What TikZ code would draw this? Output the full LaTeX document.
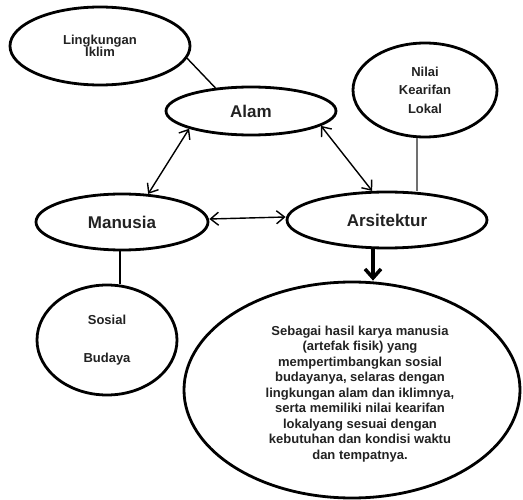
\documentclass[tikz,border=0pt]{standalone}
\usepackage{fontspec}
\setmainfont{Liberation Sans}
\usetikzlibrary{shapes.geometric,arrows.meta}
\definecolor{txt}{HTML}{222222}
\definecolor{thinline}{HTML}{707070}
\begin{document}
\begin{tikzpicture}[x=1pt,y=-1pt,
  oval/.style={draw=black, line width=2.8pt, ellipse, inner sep=0pt, align=center, text=txt,
    font=\bfseries\fontsize{13}{15.5}\selectfont},
  mainoval/.style={oval, font=\bfseries\fontsize{17}{20}\selectfont},
  link/.style={line width=1.4pt},
  bi/.style={line width=1.4pt, {Straight Barb[length=8pt,width=13pt]}-{Straight Barb[length=8pt,width=13pt]}},
  flow/.style={line width=3.5pt, -{Straight Barb[length=9pt,width=16pt]}}
]
\useasboundingbox (0,0) rectangle (523,500);

\node[oval, minimum width=180pt, minimum height=78pt] (ling) at (100,46) {Lingkungan\\[-3pt]Iklim};
\node[mainoval, minimum width=170pt, minimum height=48pt] (alam) at (251,111) {Alam};
\node[oval, minimum width=144pt, minimum height=94pt] (nilai) at (425,90) {Nilai\\[3pt]Kearifan\\[3pt]Lokal};
\node[mainoval, minimum width=172pt, minimum height=56pt] (manusia) at (122,222) {Manusia};
\node[mainoval, minimum width=200pt, minimum height=56pt] (arsi) at (387,220) {Arsitektur};
\node[oval, minimum width=140pt, minimum height=110pt] (sosial) at (107,340) {Sosial\\[22pt]Budaya};
\node[oval, minimum width=336pt, minimum height=216pt] (big) at (352,390) {};
\node[align=center, inner sep=0pt, text=txt, font=\bfseries\fontsize{13}{15.5}\selectfont] (bigtext) at (360,394)
  {Sebagai hasil karya manusia\\(artefak fisik) yang\\mempertimbangkan sosial\\budayanya, selaras dengan\\lingkungan alam dan iklimnya,\\serta memiliki nilai kearifan\\lokalyang sesuai dengan\\kebutuhan dan kondisi waktu\\dan tempatnya.};

\draw[link] (ling.-8) -- (alam.147);
\draw[line width=1.2pt, draw=thinline] ([xshift=-8pt]nilai.south) -- ([xshift=-8pt]nilai.south |- arsi.north);
\draw[link] ([xshift=-2pt]manusia.south) -- ([xshift=-2pt]manusia.south |- sosial.north);
\draw[bi] (alam.-164) -- (manusia.47);
\draw[bi] (alam.-12) -- (arsi.117);
\draw[bi] ([yshift=3pt]manusia.east) -- ([yshift=3pt]arsi.west);
\draw[flow] ([xshift=-14pt]arsi.south) -- ([xshift=-14pt]arsi.south |- big.north);
\end{tikzpicture}
\end{document}
